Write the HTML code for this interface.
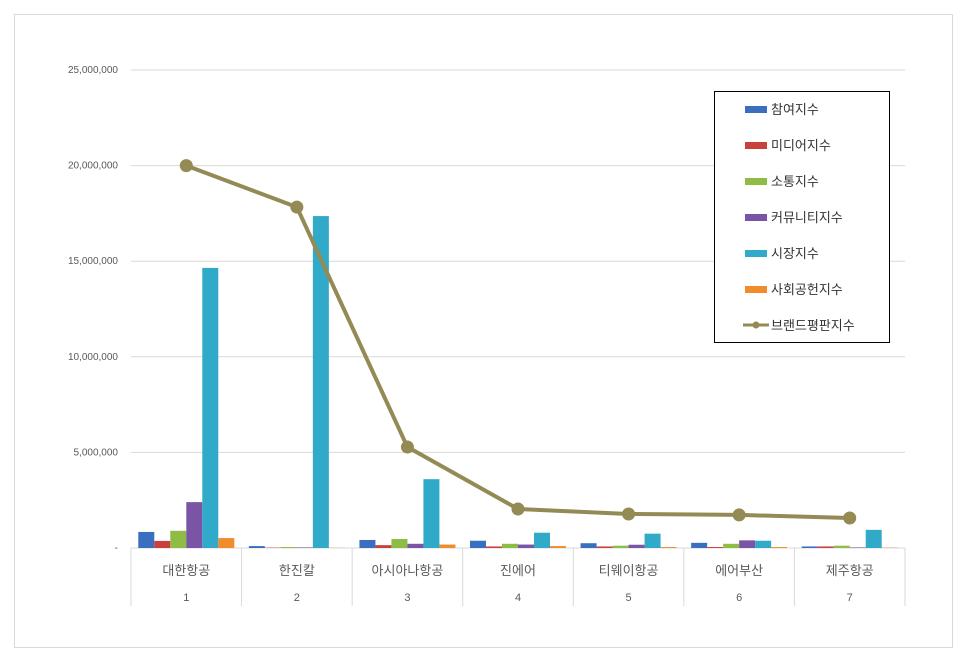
<!DOCTYPE html>
<html><head><meta charset="utf-8">
<style>
body{margin:0;background:#fff;font-family:"Liberation Sans","Noto Sans CJK KR",sans-serif;}
#wrap{position:relative;width:966px;height:660px;}
svg text{font-family:"Liberation Sans","Noto Sans CJK KR",sans-serif;}
</style></head>
<body>
<div id="wrap">
<svg id="chart" width="966" height="660"></svg>
</div>
<script>
const categories=["대한항공","한진칼","아시아나항공","진에어","티웨이항공","에어부산","제주항공"];
const ranks=["1","2","3","4","5","6","7"];
const seriesNames=["참여지수","미디어지수","소통지수","커뮤니티지수","시장지수","사회공헌지수"];
const s1=[840000,100000,420000,380000,250000,270000,80000];
const s2=[370000,20000,150000,80000,80000,50000,80000];
const s3=[900000,50000,470000,220000,120000,220000,120000];
const s4=[2400000,30000,220000,180000,170000,400000,30000];
const s5=[14650000,17360000,3600000,800000,750000,380000,950000];
const s6=[520000,10000,180000,100000,50000,50000,20000];
const lineName="브랜드평판지수";
const lineVals=[20000000,17830000,5280000,2040000,1780000,1730000,1570000];
const yTicks=[0,5000000,10000000,15000000,20000000,25000000];
const yTickLabels=["-","5,000,000","10,000,000","15,000,000","20,000,000","25,000,000"];

const colors=["#3a6fbf","#c9413c","#8fbc45","#7a55a6","#31a9c9","#f08c2c"];
const lineColor="#948a54";
const svg=document.getElementById('chart');
const NS="http://www.w3.org/2000/svg";
function mk(t,a,p){const e=document.createElementNS(NS,t);for(const k in a)e.setAttribute(k,a[k]);(p||svg).appendChild(e);return e;}
const X0=131,X1=905,Y0=548,YT=70,YMAX=25000000;
const cw=(X1-X0)/categories.length;
function y(v){return Y0-(v/YMAX)*(Y0-YT);}
function cx(i){return X0+cw*(i+0.5);}

const frame=mk('rect',{x:14.5,y:14.5,width:938,height:633,fill:'#fff',stroke:'#d9d9d9'});


yTicks.forEach((t,i)=>{
  if(i>0){const g=mk('line',{x1:X0,x2:X1,y1:y(t),y2:y(t),stroke:'#d9d9d9'});
  }
  const tx=mk('text',{x:118,y:y(t)+3,'text-anchor':'end','font-size':10,fill:'#595959'});
  tx.textContent=yTickLabels[i];
  
});
// axis and category separators
const ax=mk('line',{x1:X0,x2:X1,y1:Y0,y2:Y0,stroke:'#d9d9d9'});

for(let i=0;i<=categories.length;i++){
  const xx=X0+cw*i;
  const l=mk('line',{x1:xx,x2:xx,y1:Y0,y2:606,stroke:'#d9d9d9'});
  
}
categories.forEach((c,i)=>{
  const t=mk('text',{x:cx(i),y:575,'text-anchor':'middle','font-size':13,fill:'#595959'});
  t.textContent=c;
  const r=mk('text',{x:cx(i),y:601,'text-anchor':'middle','font-size':11,fill:'#595959'});
  r.textContent=ranks[i];
});
const allSeries=[s1,s2,s3,s4,s5,s6];
const bw=16;
allSeries.forEach((s,k)=>{
  s.forEach((v,i)=>{
    const bx=cx(i)-bw*3+k*bw;
    const b=mk('rect',{x:bx,y:y(v),width:bw,height:Y0-y(v),fill:colors[k]});
    
    
  });
});
const pts=lineVals.map((v,i)=>cx(i)+','+y(v)).join(' ');
const pl=mk('polyline',{points:pts,fill:'none',stroke:lineColor,'stroke-width':4,'stroke-linejoin':'round'});

lineVals.forEach((v,i)=>{
  const c=mk('circle',{cx:cx(i),cy:y(v),r:6.5,fill:lineColor});
  
});
// legend
const lg=mk('rect',{x:714.5,y:91.5,width:175,height:251,fill:'#fff',stroke:'#000'});

const names=seriesNames.concat([lineName]);
names.forEach((n,i)=>{
  const ly=109+i*36;
  if(i<6){const s=mk('rect',{x:745,y:ly-3,width:22,height:7,fill:colors[i]});
    }
  else{const l=mk('line',{x1:743,x2:769,y1:ly,y2:ly,stroke:lineColor,'stroke-width':3});
    
    const c=mk('circle',{cx:756,cy:ly,r:3.5,fill:lineColor});
    }
  const t=mk('text',{x:771,y:ly+5,'font-size':13,fill:'#333'});
  t.textContent=n;
});
</script>
</body></html>
